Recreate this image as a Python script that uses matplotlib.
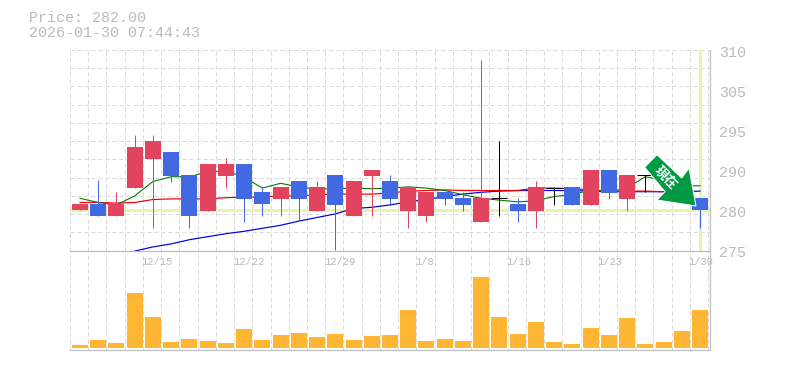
import matplotlib
matplotlib.use("Agg")
import matplotlib.pyplot as plt
from matplotlib.patches import Polygon
from matplotlib.transforms import Affine2D

W, H = 785, 370

# Candles, one per session: body top, body bottom, high, low, colour key
body_top = [281, 281, 281, 290.5, 291.5, 289.7, 285.9, 287.7, 287.7, 287.7, 283, 283.9,
            284.9, 283.9, 285.9, 284.9, 286.7, 284.9, 283.9, 283, 283, 282, 282, 282,
            281, 283.9, 283.7, 283.9, 286.7, 286.7, 285.9, 285.9, 286.3, 285, 282]
body_bot = [280, 279, 279, 283.7, 288.5, 285.7, 279, 279.9, 285.7, 281.9, 281, 281.9,
            281.9, 279.9, 280.9, 279, 285.7, 281.9, 279.9, 279, 281.9, 280.9, 278, 281.9,
            279.9, 279.9, 283.6, 280.9, 280.9, 282.9, 281.9, 285.8, 285.5, 283, 280]
high = [281, 285, 283, 292.5, 292.5, 289.7, 285.9, 287.7, 288.7, 287.7, 283.9, 283.9,
        284.9, 284.9, 285.9, 284.9, 286.7, 285.9, 283.9, 283, 283, 283, 305, 291.5,
        282, 284.9, 283.7, 283.9, 286.7, 286.7, 285.9, 285.9, 286.3, 285, 282]
low = [280, 279, 279, 283.7, 277, 284.7, 277, 279.9, 283.7, 278, 279, 279,
       278.2, 279.9, 273.4, 279, 279, 280.9, 277, 278, 280.9, 279.9, 278, 279,
       278, 277, 280.9, 280.9, 280.9, 281.9, 279.9, 283, 285.5, 283, 277]
kind = list("rbrrrbbrrbbrbrbrrbrrbbrkbrkbrbrkbbb")

ma_green = [282.0, 281.3, 280.9, 282.4, 284.8, 285.6, 285.6, 286.4, 286.6, 285.5, 283.7, 284.5,
            283.9, 283.5, 283.6, 283.7, 283.6, 283.7, 283.9, 283.7, 283.3, 282.6, 282.0, 281.7,
            281.4, 281.6, 282.3, 282.6, 283.4, 283.1, 283.7, 285.6, 285.0, 284.0, 284.1]
ma_red = [281.3, 281.3, 281.2, 281.3, 281.8, 281.9, 281.9, 281.9, 282.1, 282.2, 282.2, 282.4,
          282.4, 282.6, 282.7, 282.7, 282.7, 282.9, 283.2, 283.3, 283.4, 283.3, 283.3, 283.3,
          283.3, 283.7, 283.7, 283.6, 283.4, 283.2, 283.2, 283.2, 283.1, 283.1, None]
ma_blue = [None, None, None, 273.2, 273.9, 274.4, 275.1, 275.6, 276.1, 276.5, 277.0, 277.5,
           278.2, 278.8, 279.4, 280.3, 280.5, 280.9, 281.4, 281.8, 282.3, 282.7, 283.0, 283.2,
           283.3, 283.3, 283.3, 283.3, 283.2, 283.1, 283.1, 283.1, 283.1, 283.1, 283.2]
volume = [3, 8, 5, 55, 31, 6, 9, 7, 5, 19, 8, 13, 15, 11, 14, 8, 12, 13,
          38, 7, 9, 7, 71, 31, 14, 26, 6, 4, 20, 13, 30, 4, 6, 17, 38]

date_labels = ["12/15", "12/22", "12/29", "1/8", "1/16", "1/23", "1/30"]
date_index = [4, 9, 14, 19, 24, 29, 34]
price_labels = ["310", "305", "295", "290", "280", "275"]
price_label_pos = [306.2, 299.55, 292.9, 286.2, 279.55, 272.9]
ref_price = 280
title_lines = ["Price: 282.00", "2026-01-30 07:44:43"]

COL = {"r": "#e2435f", "b": "#4169e1", "k": "#000000"}
GRID = "#d9d9d9"
AXIS = "#bdbdbd"
TXT = "#bbbbbb"
LIME = "#e6f5a8"
MONO = "Liberation Mono"
PX = 0.72
DASH = (0, (4, 3))

fig = plt.figure(figsize=(W / 100, H / 100), dpi=100, facecolor="white")


def make_axes(x0, x1, y_top, y_bot):
    return fig.add_axes([x0 / W, 1 - y_bot / H, (x1 - x0) / W, (y_bot - y_top) / H])


ax = make_axes(70, 710, 50, 250.5)
vol = make_axes(70, 710, 250.5, 350)

step = 18.235
x_lo, x_hi = -10 / step, 630 / step
n = len(body_top)
xs = list(range(n))

# Price panel: 6 px per price unit, 280 sits at pixel row 210.3
ax.set_xlim(x_lo, x_hi)
ax.set_ylim(280 - (250.5 - 210.3) / 6, 280 + (210.3 - 50) / 6)
vol.set_xlim(x_lo, x_hi)
vol.set_ylim(-2, 97.5)
ax.autoscale(False)
vol.autoscale(False)

grid_x = [i - 0.55 for i in range(n + 1)]
y0, y1 = ax.get_ylim()
grid_y = [y0 + (y1 - y0) * k / 11 for k in range(12)]
for a in (ax, vol):
    for gx in grid_x:
        a.axvline(gx, color=GRID, lw=PX, ls=DASH, zorder=1)
for gy in grid_y:
    ax.axhline(gy, color=GRID, lw=PX, ls=DASH, zorder=1)

ax.axhline(ref_price, color=LIME, lw=3 * PX, zorder=2)
ax.axvline(n - 1, ymin=0.005, color=LIME, lw=3 * PX, zorder=2)

ax.plot(xs, ma_blue, color="#0000e0", lw=PX * 1.2, zorder=3)
ax.plot(xs, ma_red, color="#ee0000", lw=PX * 1.2, zorder=3)
ax.plot(xs, ma_green, color="#007a00", lw=PX * 1.1, zorder=3)

for i in xs:
    c = COL[kind[i]]
    ax.vlines(i, low[i], high[i], color=c, lw=PX, zorder=4)
    if kind[i] == "k":
        ax.hlines(body_top[i], i - 0.44, i + 0.44, color=c, lw=PX, zorder=4)
    else:
        ax.bar(i, body_top[i] - body_bot[i], bottom=body_bot[i], width=16 / step,
               color=c, linewidth=0, zorder=5)

vol.bar(xs, volume, width=16 / step, color="#ffb733", linewidth=0, zorder=3)

# Frame
for a in (ax, vol):
    for s in a.spines.values():
        s.set_visible(False)
    a.spines["right"].set_visible(True)
    a.spines["right"].set_color(AXIS)
    a.spines["right"].set_linewidth(PX * 1.2)
vol.spines["top"].set_visible(True)
vol.spines["bottom"].set_visible(True)
for s in ("top", "bottom"):
    vol.spines[s].set_color(AXIS)
    vol.spines[s].set_linewidth(PX * 1.2)

ax.set_xticks([])
ax.set_yticks([])
label_tf = ax.get_yaxis_transform()
for lab, pos in zip(price_labels, price_label_pos):
    ax.text(1 + 9.5 / 640, pos, lab, transform=label_tf, clip_on=False, fontfamily=MONO,
            fontsize=10.8, color=TXT, ha="left", va="center")

vol.set_yticks([])
vol.xaxis.tick_top()
vol.set_xticks([i - 0.62 for i in date_index])
vol.set_xticklabels(date_labels, fontfamily=MONO, fontsize=7.5, color=TXT, ha="left")
vol.tick_params(axis="x", length=0, pad=-12)

for line, py in zip(title_lines, (18, 33)):
    fig.text(29 / W, 1 - py / H, line, fontfamily=MONO, fontsize=10.8, color=TXT,
             ha="left", va="center")

# Green "current" arrow badge, in pixel rows of the figure
to_fig = Affine2D().scale(1 / W, -1 / H).translate(0, 1) + fig.transFigure
arrow = [(644.7, 167.3), (657, 154.7), (681.7, 178), (689, 168), (696, 206), (657, 200), (665, 191.7)]
fig.add_artist(Polygon(arrow, closed=True, facecolor="#009944", edgecolor="white", lw=PX,
                       transform=to_fig, zorder=10))
fig.text(666 / W, 1 - 177.5 / H, "現在", family=["Noto Sans CJK JP", "DejaVu Sans"], fontsize=9.5,
         fontweight="bold", color="white", rotation=-45, rotation_mode="anchor",
         ha="center", va="center", zorder=11)

fig.savefig("out.png", dpi=100)
